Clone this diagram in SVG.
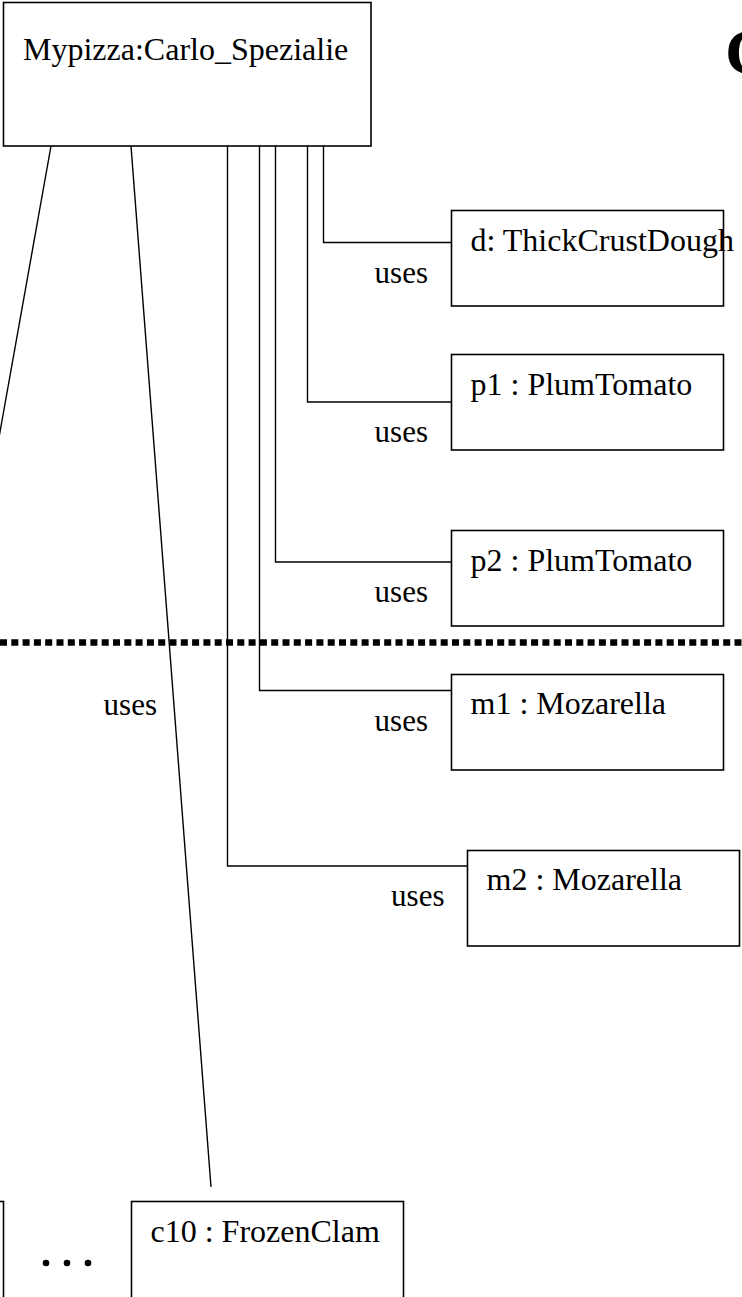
<svg xmlns="http://www.w3.org/2000/svg" width="742" height="1297" viewBox="0 0 742 1297">
  <style>
    .box { fill: #ffffff; stroke: #000000; stroke-width: 1.6; }
    .link { fill: none; stroke: #000000; stroke-width: 1.4; }
    .label { font-family: "Liberation Serif", "Times New Roman", serif; font-size: 32px; fill: #000000; }
    .role { font-family: "Liberation Serif", "Times New Roman", serif; font-size: 31px; fill: #000000; text-anchor: end; }
    .title { font-family: "Liberation Serif", "Times New Roman", serif; font-size: 66px; font-weight: bold; fill: #000000; }
  </style>
  <rect width="742" height="1297" fill="#ffffff"/>

  <!-- heading letter running off the right edge -->
  <text class="title" x="725" y="74">C</text>

  <!-- package boundary -->
  <line x1="0" y1="642.5" x2="742" y2="642.5" stroke="#000000" stroke-width="6.5" stroke-dasharray="7 4.3"/>

  <!-- uses links from the pizza to its ingredients -->
  <g id="connectors">
    <path class="link" d="M51,146 L-20,544"/>
    <path class="link" d="M131,146 L211,1187"/>
    <path class="link" d="M227.5,146 V866 H467.5"/>
    <path class="link" d="M259.5,146 V690.5 H451.5"/>
    <path class="link" d="M275.5,146 V562 H451.5"/>
    <path class="link" d="M307.5,146 V402 H451.5"/>
    <path class="link" d="M323.5,146 V242.5 H451.5"/>
    <text class="role" x="157" y="715">uses</text>
    <text class="role" x="428" y="282.5">uses</text>
    <text class="role" x="428" y="442">uses</text>
    <text class="role" x="428" y="602">uses</text>
    <text class="role" x="428" y="730.5">uses</text>
    <text class="role" x="444.5" y="906">uses</text>
  </g>

  <g id="pizza">
    <rect class="box" x="3.5" y="2.5" width="367.5" height="143.5"/>
    <text class="label" x="23" y="59.5">Mypizza:Carlo_Spezialie</text>
  </g>

  <g id="dough">
    <rect class="box" x="451.5" y="210.5" width="272" height="95.5"/>
    <text class="label" x="470.5" y="251">d: ThickCrustDough</text>
  </g>

  <g id="tomato1">
    <rect class="box" x="451.5" y="354.5" width="272" height="95.5"/>
    <text class="label" x="470.5" y="394.5">p1 : PlumTomato</text>
  </g>

  <g id="tomato2">
    <rect class="box" x="451.5" y="530.5" width="272" height="95.5"/>
    <text class="label" x="470.5" y="570.5">p2 : PlumTomato</text>
  </g>

  <g id="cheese1">
    <rect class="box" x="451.5" y="674.5" width="272" height="95.5"/>
    <text class="label" x="470.5" y="714">m1 : Mozarella</text>
  </g>

  <g id="cheese2">
    <rect class="box" x="467.5" y="850.5" width="272" height="95.5"/>
    <text class="label" x="486.5" y="890">m2 : Mozarella</text>
  </g>

  <g id="clam1">
    <rect class="box" x="-270" y="1201.5" width="273.5" height="130"/>
  </g>

  <g id="ellipsis">
    <circle cx="46" cy="1263" r="3.3" fill="#000000"/>
    <circle cx="67" cy="1263" r="3.3" fill="#000000"/>
    <circle cx="88" cy="1263" r="3.3" fill="#000000"/>
  </g>

  <g id="clam10">
    <rect class="box" x="131.5" y="1201.5" width="272" height="130"/>
    <text class="label" x="150.5" y="1241.5">c10 : FrozenClam</text>
  </g>
</svg>
